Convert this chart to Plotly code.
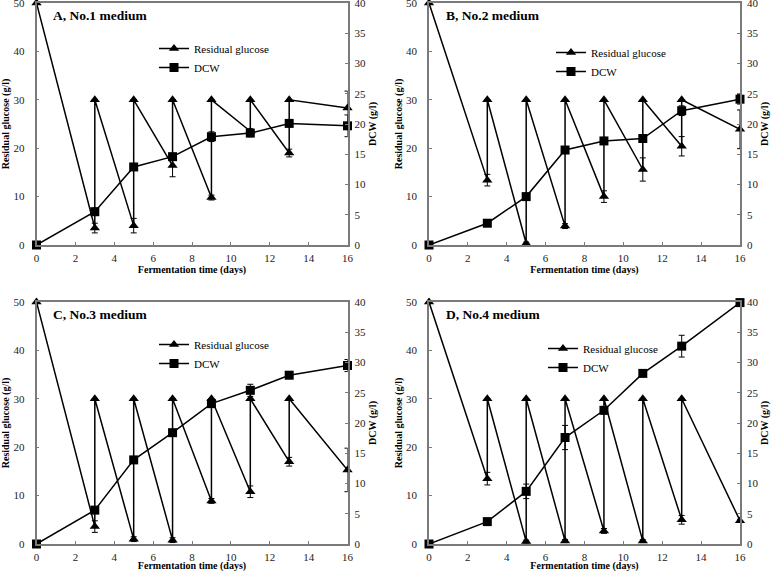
import plotly.graph_objects as go

# ---------------- data ----------------
days = [0, 3, 5, 7, 9, 11, 13, 16]
feed_days = [3, 5, 7, 9, 11, 13]
feed_glucose = [30, 30, 30, 30, 30, 30]

panel_titles = ["A, No.1 medium", "B, No.2 medium", "C, No.3 medium", "D, No.4 medium"]

glucose_A = [50, 3.5, 4.0, 16.4, 9.8, 23.5, 19.0, 28.3]
glucose_B = [50, 13.4, 0.3, 3.9, 10.0, 15.6, 20.4, 23.9]
glucose_C = [50, 3.6, 1.0, 0.8, 8.9, 10.8, 17.0, 15.3]
glucose_D = [50, 13.5, 0.5, 0.6, 2.7, 0.6, 5.0, 4.8]

glucose_err_A = [0, 1.0, 1.5, 2.3, 0.5, 0.5, 0.8, 3.5]
glucose_err_B = [0, 1.2, 0.3, 0.5, 1.2, 2.4, 2.0, 4.0]
glucose_err_C = [0, 1.2, 0.5, 0.5, 0.5, 1.2, 0.9, 4.5]
glucose_err_D = [0, 1.3, 0.3, 0.3, 0.5, 0.3, 0.9, 0.3]

dcw_A = [0, 5.5, 12.9, 14.6, 17.9, 18.5, 20.1, 19.7]
dcw_B = [0, 3.6, 8.0, 15.7, 17.2, 17.6, 22.2, 24.1]
dcw_C = [0, 5.6, 13.9, 18.4, 23.2, 25.4, 27.9, 29.5]
dcw_D = [0, 3.7, 8.7, 17.6, 22.1, 28.2, 32.7, 39.9]

dcw_err_A = [0, 0.6, 0.5, 0.5, 0.8, 0.6, 0.5, 1.8]
dcw_err_B = [0, 0.3, 0.4, 0.5, 0.5, 0.6, 0.8, 0.8]
dcw_err_C = [0, 0.5, 0.5, 0.5, 0.5, 1.0, 0.4, 1.0]
dcw_err_D = [0, 0.3, 1.2, 2.0, 0.6, 0.5, 1.8, 0.3]

glucose_sets = [glucose_A, glucose_B, glucose_C, glucose_D]
glucose_errs = [glucose_err_A, glucose_err_B, glucose_err_C, glucose_err_D]
dcw_sets = [dcw_A, dcw_B, dcw_C, dcw_D]
dcw_errs = [dcw_err_A, dcw_err_B, dcw_err_C, dcw_err_D]

x_ticks = [0, 2, 4, 6, 8, 10, 12, 14, 16]

# ---------------- layout geometry ----------------
W, H = 777, 572
x_domains = [[36.5 / W, 347.5 / W], [429 / W, 740 / W]] * 2
y_domains = [[1 - 245 / H, 1 - 3 / H]] * 2 + [[1 - 544 / H, 1 - 302 / H]] * 2
legend_pos = [(154 / W, 1 - 34 / H), (551 / W, 1 - 38 / H),
              (154 / W, 1 - 330 / H), (543 / W, 1 - 334 / H)]

FONT = "Times New Roman, Liberation Serif, serif"
AXC = "#7a7a7a"


def sawtooth(vals, errs):
    xs, ys, es = [], [], []
    for d, v, e in zip(days, vals, errs):
        xs.append(d); ys.append(v); es.append(e)
        if d in feed_days:
            xs.append(d); ys.append(feed_glucose[feed_days.index(d)]); es.append(0)
    return xs, ys, es


fig = go.Figure()
layout = {}
annotations = []
for i in range(4):
    xa = f"x{i + 1}" if i else "x"
    yl = f"y{2 * i + 1}" if i else "y"
    yr = f"y{2 * i + 2}"
    lg = f"legend{i + 1}" if i else "legend"

    gx, gy, ge = sawtooth(glucose_sets[i], glucose_errs[i])
    fig.add_trace(go.Scatter(
        x=gx, y=gy, xaxis=xa, yaxis=yl, mode="lines+markers",
        name="Residual glucose", legend=lg, cliponaxis=False,
        line=dict(color="black", width=1.5),
        marker=dict(symbol="triangle-up", size=9, color="black"),
        error_y=dict(type="data", array=ge, visible=True, color="black",
                     thickness=1, width=3)))
    fig.add_trace(go.Scatter(
        x=days, y=dcw_sets[i], xaxis=xa, yaxis=yr, mode="lines+markers",
        name="DCW", legend=lg, cliponaxis=False,
        line=dict(color="black", width=1.5),
        marker=dict(symbol="square", size=9, color="black"),
        error_y=dict(type="data", array=dcw_errs[i], visible=True, color="black",
                     thickness=1, width=3)))

    xk = "xaxis" + (str(i + 1) if i else "")
    ylk = "yaxis" + (str(2 * i + 1) if i else "")
    yrk = "yaxis" + str(2 * i + 2)
    tickfont = dict(family=FONT, size=11, color="#222")
    titlefont = dict(family=FONT, size=10, color="black")
    layout[xk] = dict(
        domain=x_domains[i], anchor=yl, range=[0, 16], tickvals=x_ticks,
        showline=True, linecolor=AXC, linewidth=1.5, mirror=True, automargin=False,
        ticks="inside", ticklen=3, tickcolor=AXC, showgrid=False, zeroline=False,
        tickfont=tickfont, ticklabelstandoff=2, ticklabeloverflow="allow",
        title=dict(text="<b>Fermentation time (days)</b>", font=titlefont, standoff=3))
    layout[ylk] = dict(
        domain=y_domains[i], anchor=xa, range=[0, 50], dtick=10, automargin=False,
        showline=True, linecolor=AXC, linewidth=1.5,
        ticks="inside", ticklen=3, tickcolor=AXC, showgrid=False, zeroline=False,
        tickfont=tickfont, ticklabelstandoff=8, ticklabeloverflow="allow",
        title=dict(text="<b>Residual glucose (g/l)</b>", font=titlefont, standoff=2))
    layout[yrk] = dict(
        domain=y_domains[i], anchor=xa, overlaying=yl, side="right", automargin=False,
        range=[0, 40], dtick=5,
        showline=True, linecolor=AXC, linewidth=1.5,
        ticks="inside", ticklen=3, tickcolor=AXC, showgrid=False, zeroline=False,
        tickfont=tickfont, ticklabelstandoff=3, ticklabeloverflow="allow",
        title=dict(text="<b>DCW (g/l)</b>", font=titlefont, standoff=4))
    layout[lg] = dict(
        x=legend_pos[i][0], y=legend_pos[i][1], xanchor="left", yanchor="top",
        bgcolor="rgba(0,0,0,0)", font=dict(family=FONT, size=11, color="black"),
        traceorder="normal", itemwidth=30, tracegroupgap=0)
    annotations.append(dict(
        text=f"<b>{panel_titles[i]}</b>", xref=f"{xa} domain", yref=f"{yl} domain",
        x=(51 - 36.5) / 311, y=1 - (15.7 - 3) / 242, xanchor="left", yanchor="middle",
        showarrow=False, font=dict(family=FONT, size=13.5, color="black")))

fig.update_layout(
    width=W, height=H, margin=dict(l=0, r=0, t=0, b=0, autoexpand=False),
    paper_bgcolor="white", plot_bgcolor="white",
    annotations=annotations, showlegend=True, **layout)

fig.write_html("out.html", config={"displayModeBar": False},
               post_script="document.body.style.margin='0';")
